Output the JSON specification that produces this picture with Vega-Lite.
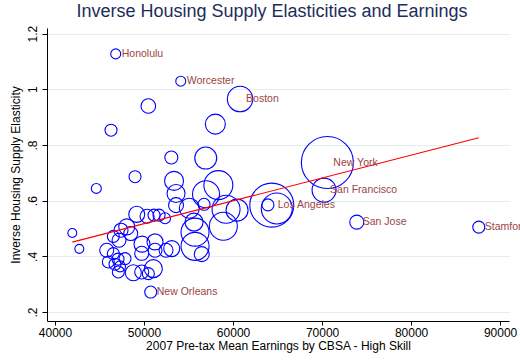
{
  "$schema": "https://vega.github.io/schema/vega-lite/v6.json",
  "width": 462,
  "height": 293,
  "autosize": "none",
  "padding": {"left": 47, "top": 28, "right": 11, "bottom": 39},
  "background": "white",
  "config": {
    "font": "Liberation Sans",
    "view": {"stroke": null},
    "axis": {"labelFont": "Liberation Sans", "titleFont": "Liberation Sans"}
  },
  "title": {
    "text": "Inverse Housing Supply Elasticities and Earnings",
    "fontSize": 18,
    "font": "Liberation Sans",
    "fontWeight": "normal",
    "color": "#1c2d5a",
    "anchor": "middle",
    "offset": 4,
    "dx": -6
  },
  "datasets": {
    "cbsa": [
      {"earn": 46820, "elast": 1.127, "pop": 0.69, "city": "Honolulu"},
      {"earn": 54124, "elast": 1.029, "pop": 0.69, "city": "Worcester"},
      {"earn": 60787, "elast": 0.965, "pop": 4.48, "city": "Boston"},
      {"earn": 50483, "elast": 0.940, "pop": 1.48},
      {"earn": 46292, "elast": 0.853, "pop": 1.0},
      {"earn": 58011, "elast": 0.875, "pop": 2.78},
      {"earn": 53068, "elast": 0.755, "pop": 1.17},
      {"earn": 56933, "elast": 0.753, "pop": 3.36},
      {"earn": 48989, "elast": 0.686, "pop": 1.0},
      {"earn": 44640, "elast": 0.644, "pop": 0.69},
      {"earn": 41944, "elast": 0.484, "pop": 0.56},
      {"earn": 42730, "elast": 0.427, "pop": 0.56},
      {"earn": 50753, "elast": 0.272, "pop": 1.0, "city": "New Orleans"},
      {"earn": 70596, "elast": 0.737, "pop": 18.8, "city": "New York"},
      {"earn": 70225, "elast": 0.638, "pop": 4.0, "city": "San Francisco"},
      {"earn": 64348, "elast": 0.584, "pop": 13.4, "city": "Los Angeles"},
      {"earn": 64910, "elast": 0.572, "pop": 6.67},
      {"earn": 63919, "elast": 0.585, "pop": 1.0},
      {"earn": 73899, "elast": 0.523, "pop": 1.36, "city": "San Jose"},
      {"earn": 87607, "elast": 0.505, "pop": 1.0, "city": "Stamford"},
      {"earn": 53371, "elast": 0.671, "pop": 2.51},
      {"earn": 53596, "elast": 0.626, "pop": 2.25},
      {"earn": 53596, "elast": 0.584, "pop": 1.56},
      {"earn": 58349, "elast": 0.656, "pop": 5.84},
      {"earn": 56966, "elast": 0.623, "pop": 5.06},
      {"earn": 55090, "elast": 0.573, "pop": 2.78},
      {"earn": 56742, "elast": 0.587, "pop": 1.0},
      {"earn": 59214, "elast": 0.569, "pop": 5.44},
      {"earn": 60450, "elast": 0.566, "pop": 3.36},
      {"earn": 58910, "elast": 0.508, "pop": 5.44},
      {"earn": 55730, "elast": 0.487, "pop": 5.44},
      {"earn": 55730, "elast": 0.436, "pop": 5.44},
      {"earn": 56483, "elast": 0.408, "pop": 1.56},
      {"earn": 53112, "elast": 0.428, "pop": 1.78},
      {"earn": 52472, "elast": 0.422, "pop": 1.36},
      {"earn": 49180, "elast": 0.551, "pop": 1.78},
      {"earn": 50337, "elast": 0.544, "pop": 1.36},
      {"earn": 51124, "elast": 0.548, "pop": 1.0},
      {"earn": 51686, "elast": 0.548, "pop": 1.0},
      {"earn": 52360, "elast": 0.537, "pop": 0.84},
      {"earn": 48056, "elast": 0.506, "pop": 1.78},
      {"earn": 47416, "elast": 0.494, "pop": 1.36},
      {"earn": 48506, "elast": 0.482, "pop": 1.36},
      {"earn": 46551, "elast": 0.472, "pop": 1.0},
      {"earn": 47191, "elast": 0.458, "pop": 1.36},
      {"earn": 49775, "elast": 0.444, "pop": 1.78},
      {"earn": 51236, "elast": 0.452, "pop": 1.78},
      {"earn": 49741, "elast": 0.411, "pop": 1.36},
      {"earn": 51236, "elast": 0.422, "pop": 1.36},
      {"earn": 45809, "elast": 0.422, "pop": 1.36},
      {"earn": 46551, "elast": 0.410, "pop": 1.0},
      {"earn": 47079, "elast": 0.390, "pop": 1.0},
      {"earn": 47865, "elast": 0.392, "pop": 1.0},
      {"earn": 45989, "elast": 0.380, "pop": 1.0},
      {"earn": 46742, "elast": 0.372, "pop": 1.0},
      {"earn": 47303, "elast": 0.364, "pop": 0.84},
      {"earn": 47112, "elast": 0.344, "pop": 1.0},
      {"earn": 48798, "elast": 0.341, "pop": 1.78},
      {"earn": 49741, "elast": 0.344, "pop": 1.36},
      {"earn": 50483, "elast": 0.338, "pop": 1.0},
      {"earn": 51045, "elast": 0.356, "pop": 2.25},
      {"earn": 55618, "elast": 0.523, "pop": 2.25}
    ],
    "fit": [
      {"earn": 41944, "elast": 0.451},
      {"earn": 87607, "elast": 0.826}
    ]
  },
  "encoding": {
    "x": {
      "field": "earn",
      "type": "quantitative",
      "scale": {"domain": [39100, 91000], "nice": false, "zero": false},
      "axis": {
        "title": "2007 Pre-tax Mean Earnings by CBSA - High Skill",
        "values": [40000, 50000, 60000, 70000, 80000, 90000],
        "format": "d",
        "grid": false,
        "domainColor": "#000000",
        "tickColor": "#000000",
        "tickSize": 4,
        "labelFontSize": 12,
        "labelColor": "#000000",
        "labelPadding": 2,
        "titleFontSize": 12,
        "titleFontWeight": "normal",
        "titleColor": "#000000",
        "titlePadding": 2
      }
    },
    "y": {
      "field": "elast",
      "type": "quantitative",
      "scale": {"domain": [0.168, 1.22], "nice": false, "zero": false},
      "axis": {
        "title": "Inverse Housing Supply Elasticity",
        "values": [0.2, 0.4, 0.6, 0.8, 1.0, 1.2],
        "labelExpr": "datum.value < 1 ? '.' + round(datum.value * 10) : '' + datum.value",
        "labelAngle": 270,
        "grid": true,
        "gridColor": "#e4eef0",
        "gridWidth": 1,
        "domainColor": "#000000",
        "tickColor": "#000000",
        "tickSize": 5,
        "labelFontSize": 12,
        "labelColor": "#000000",
        "labelPadding": 3,
        "titleFontSize": 12,
        "titleFontWeight": "normal",
        "titleColor": "#000000",
        "titlePadding": 4
      }
    }
  },
  "layer": [
    {
      "data": {"name": "cbsa"},
      "mark": {"type": "point", "shape": "circle", "filled": false, "color": "#0000ff", "strokeWidth": 1.1, "opacity": 1},
      "encoding": {
        "size": {
          "field": "pop",
          "type": "quantitative",
          "scale": {"type": "linear", "domain": [0, 20], "range": [0, 2880]},
          "legend": null
        }
      }
    },
    {
      "data": {"name": "fit"},
      "mark": {"type": "line", "color": "#ff0000", "strokeWidth": 1.2},
      "encoding": {}
    },
    {
      "data": {"name": "cbsa"},
      "transform": [{"filter": "datum.city != null"}],
      "mark": {"type": "text", "align": "left", "baseline": "middle", "dx": 6, "fontSize": 10.5, "color": "#9b4444"},
      "encoding": {"text": {"field": "city", "type": "nominal"}}
    }
  ]
}
